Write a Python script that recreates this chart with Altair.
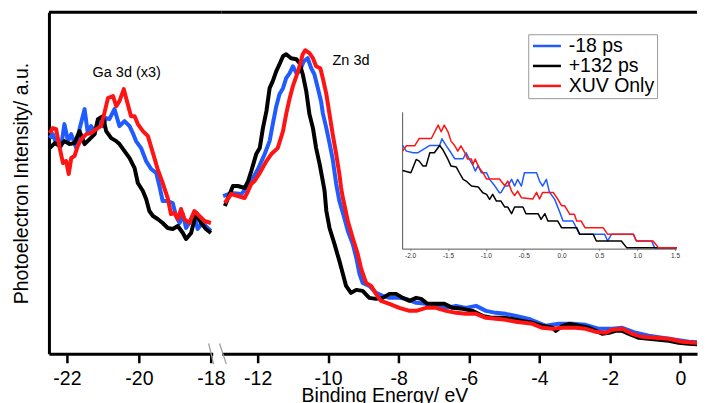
import altair as alt
import pandas as pd

FONT = "Liberation Sans"
SERIES = ["-18 ps", "+132 ps", "XUV Only"]
COLORS = ["#1f5bff", "#000000", "#ff1414"]

# ---------------- Ga 3d (x3) segment (binding energy eV, intensity a.u.) ----------------
ga_blue_e = [-22.48, -22.39, -22.30, -22.16, -22.07, -21.97, -21.88, -21.74, -21.65, -21.51, -21.42, -21.33, -21.23, -21.09,
             -21.00, -20.91, -20.82, -20.68, -20.54, -20.40, -20.26, -20.17, -20.08, -19.94, -19.80, -19.66, -19.52, -19.43,
             -19.34, -19.20, -19.06, -18.97, -18.87, -18.78, -18.69, -18.60, -18.46, -18.37, -18.23, -18.09, -18.00]
ga_blue_v = [215, 219, 210, 207, 229, 212, 219, 205, 224, 244, 220, 227, 222, 234, 227, 235, 234, 244, 227, 232, 227, 220,
             212, 205, 192, 184, 180, 167, 152, 152, 150, 137, 130, 139, 125, 130, 140, 124, 130, 125, 122]
ga_black_e = [-22.48, -22.34, -22.20, -22.07, -21.93, -21.79, -21.65, -21.51, -21.37, -21.23, -21.14, -21.00, -20.91, -20.77,
              -20.63, -20.54, -20.40, -20.26, -20.12, -20.03, -19.89, -19.80, -19.71, -19.61, -19.48, -19.34, -19.20, -19.06,
              -18.92, -18.78, -18.69, -18.55, -18.41, -18.27, -18.14, -18.00]
ga_black_v = [205, 210, 207, 212, 209, 210, 222, 209, 214, 219, 234, 237, 222, 215, 212, 209, 202, 195, 185, 170, 162, 154,
              142, 137, 134, 130, 125, 124, 127, 120, 114, 120, 140, 130, 124, 120]
ga_red_e = [-22.48, -22.39, -22.30, -22.20, -22.11, -22.02, -21.95, -21.88, -21.79, -21.70, -21.60, -21.46, -21.33, -21.19,
            -21.05, -20.96, -20.86, -20.72, -20.63, -20.54, -20.42, -20.31, -20.22, -20.12, -20.03, -19.89, -19.75, -19.61,
            -19.48, -19.34, -19.20, -19.11, -19.01, -18.92, -18.83, -18.74, -18.60, -18.46, -18.32, -18.18, -18.00]
ga_red_v = [220, 225, 224, 205, 190, 192, 179, 195, 197, 207, 214, 219, 220, 224, 227, 240, 255, 257, 247, 252, 264, 249,
            237, 237, 229, 222, 217, 200, 184, 170, 155, 139, 140, 134, 144, 134, 130, 142, 137, 132, 130]

# ---------------- Zn 3d / valence segment ----------------
zn_blue_e = [-12.98, -12.75, -12.46, -12.27, -12.18, -11.99, -11.80, -11.66, -11.57, -11.47, -11.38, -11.28, -11.19, -11.09,
             -11.00, -10.90, -10.81, -10.69, -10.58, -10.48, -10.39, -10.29, -10.20, -10.15, -10.05, -9.96, -9.87, -9.77,
             -9.68, -9.54, -9.44, -9.30, -9.20, -9.11, -9.02, -8.83, -8.64, -8.45, -8.26, -7.98, -7.79, -7.50, -7.22, -6.94,
             -6.65, -6.37, -6.09, -5.80, -5.52, -5.24, -4.96, -4.67, -4.30, -3.82, -3.45, -3.07, -2.69, -2.31, -1.94, -1.65,
             -1.27, -0.90, -0.52, -0.14, 0.24, 0.69]
zn_blue_v = [157, 160, 159, 167, 172, 184, 199, 212, 229, 247, 259, 265, 275, 280, 287, 280, 282, 292, 295, 285, 279, 265,
             252, 240, 225, 210, 194, 169, 152, 135, 122, 109, 95, 79, 70, 67, 60, 57, 55, 55, 54, 50, 49, 47, 45, 47, 45, 47,
             42, 40, 39, 37, 34, 27, 29, 29, 28, 24, 24, 25, 20, 17, 15, 13, 11, 10]
zn_black_e = [-12.93, -12.70, -12.56, -12.37, -12.27, -12.18, -12.04, -11.94, -11.85, -11.75, -11.66, -11.57, -11.47, -11.38,
              -11.28, -11.19, -11.05, -10.90, -10.81, -10.72, -10.62, -10.53, -10.43, -10.34, -10.24, -10.15, -10.10, -10.05,
              -9.96, -9.82, -9.68, -9.58, -9.49, -9.35, -9.20, -9.02, -8.83, -8.64, -8.45, -8.26, -8.07, -7.88, -7.69, -7.50,
              -7.36, -7.18, -6.99, -6.70, -6.47, -6.18, -5.90, -5.62, -5.33, -5.05, -4.77, -4.48, -4.20, -3.92, -3.63, -3.54,
              -3.35, -3.16, -2.88, -2.60, -2.40, -2.22, -2.03, -1.84, -1.65, -1.46, -1.18, -0.90, -0.61, -0.33, -0.05, 0.24,
              0.69]
zn_black_v = [147, 167, 167, 165, 172, 182, 199, 205, 225, 242, 265, 272, 282, 289, 297, 299, 295, 294, 290, 279, 262, 239,
              225, 205, 189, 172, 162, 142, 125, 109, 92, 79, 67, 60, 63, 62, 55, 54, 55, 59, 59, 55, 52, 55, 54, 49, 49, 49,
              45, 44, 42, 37, 35, 35, 34, 32, 30, 27, 25, 22, 27, 29, 27, 25, 22, 19, 20, 22, 22, 19, 15, 14, 13, 12, 10, 9, 8]
zn_red_e = [-12.93, -12.75, -12.56, -12.37, -12.27, -12.18, -12.09, -11.94, -11.75, -11.61, -11.43, -11.28, -11.19, -11.09,
            -11.00, -10.90, -10.81, -10.72, -10.65, -10.53, -10.43, -10.34, -10.22, -10.15, -10.05, -9.96, -9.87, -9.77,
            -9.68, -9.63, -9.58, -9.44, -9.30, -9.16, -9.06, -8.92, -8.78, -8.64, -8.50, -8.26, -7.98, -7.69, -7.50, -7.22,
            -6.94, -6.65, -6.37, -6.09, -5.80, -5.52, -5.24, -4.96, -4.67, -4.20, -3.92, -3.63, -3.35, -2.97, -2.69, -2.40,
            -2.12, -1.94, -1.65, -1.37, -1.08, -0.71, -0.33, 0.05, 0.43, 0.69]
zn_red_v = [150, 159, 157, 155, 162, 169, 172, 180, 192, 199, 205, 222, 239, 255, 267, 277, 287, 299, 303, 300, 295, 287,
            285, 275, 259, 239, 219, 199, 179, 165, 155, 132, 115, 99, 84, 70, 67, 59, 52, 49, 45, 42, 42, 45, 45, 42, 40, 39,
            39, 35, 34, 33, 31, 29, 25, 24, 25, 25, 24, 21, 20, 23, 24, 19, 16, 15, 14, 11, 10, 10]

# ---------------- inset (valence band edge, counts) ----------------
in_blue_e = [-2.10, -2.05, -1.96, -1.90, -1.74, -1.61, -1.58, -1.52, -1.46, -1.41, -1.30, -1.26, -1.22, -1.17, -1.14, -1.10,
             -1.06, -0.99, -0.95, -0.88, -0.82, -0.80, -0.75, -0.71, -0.66, -0.62, -0.58, -0.53, -0.49, -0.33, -0.29, -0.25,
             -0.20, -0.16, -0.09, -0.02, 0.02, 0.15, 0.24, 0.57, 0.61, 0.66, 0.95, 0.99, 1.19, 1.23, 1.52]
in_blue_c = [15.35, 14.5, 14.25, 14.25, 15.35, 15.35, 16.35, 15.25, 14.25, 13.35, 13.35, 14.25, 13.35, 12.35, 11.5, 12.35,
             11.25, 11.25, 10.25, 9.25, 8.25, 8.25, 9.25, 9.25, 10.25, 9.25, 10.25, 9.25, 11.25, 11.25, 10.0, 9.25, 10.25,
             8.35, 7.25, 5.25, 4.0, 4.0, 2.0, 2.0, 1.0, 2.0, 2.0, 1.0, 1.0, 0.0, 0.0]
in_black_e = [-2.10, -1.99, -1.92, -1.88, -1.83, -1.79, -1.74, -1.68, -1.61, -1.57, -1.50, -1.46, -1.39, -1.35, -1.30, -1.26,
              -1.19, -1.10, -1.04, -0.99, -0.95, -0.91, -0.86, -0.80, -0.75, -0.71, -0.66, -0.62, -0.51, -0.47, -0.31, -0.27,
              -0.22, -0.18, -0.05, 0.00, 0.20, 0.24, 0.42, 0.46, 0.79, 0.86, 1.52]
in_black_c = [11.6, 11.25, 13.25, 13.0, 12.25, 12.25, 14.25, 14.25, 15.35, 14.75, 13.25, 12.25, 12.1, 11.25, 10.25, 10.0,
              9.25, 9.1, 8.25, 8.0, 7.25, 8.0, 7.0, 7.0, 6.1, 6.1, 5.1, 6.1, 6.1, 5.1, 5.1, 4.25, 5.1, 4.0, 4.0, 3.0, 3.0,
              2.0, 2.0, 1.0, 1.0, 0.0, 0.0]
in_red_e = [-2.10, -2.05, -1.94, -1.88, -1.72, -1.63, -1.59, -1.55, -1.50, -1.46, -1.41, -1.37, -1.33, -1.28, -1.24, -1.19,
            -1.17, -1.14, -1.09, -1.04, -0.99, -0.82, -0.75, -0.71, -0.66, -0.62, -0.58, -0.53, -0.38, -0.33, -0.29, -0.25,
            -0.11, -0.05, 0.00, 0.04, 0.11, 0.17, 0.20, 0.26, 0.31, 0.55, 0.61, 0.95, 0.99, 1.21, 1.28, 1.52]
in_red_c = [14.5, 15.3, 15.3, 16.4, 16.4, 18.4, 17.4, 18.4, 17.4, 16.0, 15.3, 14.5, 15.3, 14.3, 13.3, 13.3, 12.5, 13.3,
            12.0, 11.3, 10.3, 10.3, 9.3, 10.0, 8.5, 7.8, 8.5, 7.5, 7.3, 8.3, 7.3, 8.3, 8.3, 7.3, 6.3, 6.3, 5.0, 5.0, 4.0,
            4.0, 3.0, 3.0, 2.0, 2.0, 1.0, 1.0, 0.0, 0.0]

# tick values
left_ticks = [-22, -20, -18]
right_ticks = [-12, -10, -8, -6, -4, -2, 0]
inset_ticks = [-2.0, -1.5, -1.0, -0.5, 0.0, 0.5, 1.0, 1.5]

# annotations
ann_left_text, ann_left_e, ann_left_v = ["Ga 3d (x3)"], [-20.34], [280]
ann_right_text, ann_right_e, ann_right_v = ["Zn 3d"], [-9.35], [292]

# axis-break marks and frame top (data units)
brk_e1, brk_e2, brk_v1, brk_v2 = [-13.39, -13.08], [-13.25, -12.89], [9.3, 9.3], [-11.3, -11.3]
top_left_e = [-22.5, -17.7]
top_v = 341


def frame(e, v, name):
    return pd.DataFrame({"E": e, "I": v, "series": name, "idx": range(len(e))})


left_df = pd.concat([frame(ga_blue_e, ga_blue_v, SERIES[0]), frame(ga_black_e, ga_black_v, SERIES[1]),
                     frame(ga_red_e, ga_red_v, SERIES[2])])
right_df = pd.concat([frame(zn_blue_e, zn_blue_v, SERIES[0]), frame(zn_black_e, zn_black_v, SERIES[1]),
                      frame(zn_red_e, zn_red_v, SERIES[2])])
inset_df = pd.concat([frame(in_blue_e, in_blue_c, SERIES[0]), frame(in_black_e, in_black_c, SERIES[1]),
                      frame(in_red_e, in_red_c, SERIES[2])])

MINUS = "\u2212"
main_axis = dict(domainColor="black", domainWidth=3, tickColor="black", tickWidth=2.5, tickSize=9,
                 labelFont=FONT, labelFontSize=19.5, labelColor="black", labelPadding=7, labelFlush=False,
                 labelOverlap=False, grid=False, labelExpr="'' + datum.value")

Y_DOMAIN = [-1, 341]

legend = alt.Legend(title=None, orient="none", legendX=307, legendY=22, symbolType="M-1,0H3", symbolSize=196,
                    symbolStrokeWidth=2.5, labelFontSize=19.5, labelFont=FONT, labelColor="black", labelOffset=19,
                    rowPadding=-3, padding=2, strokeColor="#9a9a9a", fillColor="white")


def color_enc(leg):
    if leg is None:
        return alt.Color("series:N", scale=alt.Scale(domain=SERIES, range=COLORS), legend=None)
    return alt.Color("series:N", scale=alt.Scale(domain=SERIES, range=COLORS), legend=leg)


def lines(df, x, y, width, leg, clip=False):
    out = []
    for name in [SERIES[0], SERIES[1], SERIES[2]]:
        out.append(alt.Chart(df).transform_filter(alt.datum.series == name)
                   .mark_line(strokeWidth=width, strokeJoin="round", clip=clip)
                   .encode(x=x, y=y, color=color_enc(leg), order="idx:Q"))
    return out


# ---------- left panel ----------
xl = alt.X("E:Q", scale=alt.Scale(domain=[-22.5, -17.95], nice=False, zero=False),
           axis=alt.Axis(values=left_ticks, title=None, **main_axis))
yl = alt.Y("I:Q", scale=alt.Scale(domain=Y_DOMAIN, nice=False, zero=False),
           axis=alt.Axis(title="Photoelectron Intensity/ a.u.", labels=False, ticks=False, domainColor="black",
                         domainWidth=3, titleFont=FONT, titleFontSize=19.5, titleFontWeight="normal",
                         titleColor="black", titlePadding=17, grid=False))

ann_l = alt.Chart(pd.DataFrame({"E": ann_left_e, "I": ann_left_v, "t": ann_left_text})).mark_text(
    font=FONT, fontSize=14.5, color="black", align="center", baseline="middle").encode(x=xl, y=yl, text="t:N")
top_l = alt.Chart(pd.DataFrame({"E": [top_left_e[0]], "E2": [top_left_e[1]], "I": [top_v]})).mark_rule(
    color="black", strokeWidth=3).encode(x=xl, x2="E2:Q", y=yl)

left = alt.layer(*lines(left_df, xl, yl, 4, None), ann_l, top_l).properties(width=164, height=342)

# ---------- right panel ----------
xr = alt.X("E:Q", scale=alt.Scale(domain=[-13.02, 0.47], nice=False, zero=False),
           axis=alt.Axis(values=right_ticks, title="Binding Energy/ eV", titleFont=FONT, titleFontSize=19.5,
                         titleFontWeight="normal", titleColor="black", titleX=163, titleY=33, **main_axis))
yr = alt.Y("I:Q", scale=alt.Scale(domain=Y_DOMAIN, nice=False, zero=False), axis=None)

ann_r = alt.Chart(pd.DataFrame({"E": ann_right_e, "I": ann_right_v, "t": ann_right_text})).mark_text(
    font=FONT, fontSize=14.5, color="black", align="center", baseline="middle").encode(x=xr, y=yr, text="t:N")
top_r = alt.Chart(pd.DataFrame({"I": [top_v]})).mark_rule(color="black", strokeWidth=3).encode(y=yr)
brk = alt.Chart(pd.DataFrame({"E": brk_e1, "E2": brk_e2, "I": brk_v1, "I2": brk_v2})).mark_rule(
    color="#9a9a9a", strokeWidth=1.2).encode(x=xr, x2="E2:Q", y=yr, y2="I2:Q")

right_main = alt.layer(*lines(right_df, xr, yr, 4, legend, clip=True), ann_r, top_r, brk)

xi = alt.X("E:Q", scale=alt.Scale(domain=[-2.106, 1.517], range=[180.7, 455.3], nice=False, zero=False),
           axis=alt.Axis(orient="bottom", offset=-105.3, values=inset_ticks, title=None, grid=False,
                         labelExpr="replace(format(datum.value, '.1f'), '" + MINUS + "', '-')",
                         labelFont=FONT, labelFontSize=6.5, labelColor="#333333", labelPadding=2, labelFlush=False,
                         labelOverlap=False, tickSize=2, tickColor="#777777", tickWidth=0.8,
                         domainColor="#555555", domainWidth=1))
yi = alt.Y("I:Q", scale=alt.Scale(domain=[-0.15, 20.4], range=[236.7, 99.7], nice=False, zero=False),
           axis=alt.Axis(orient="left", offset=-180.7, labels=False, ticks=False, title=None, grid=False,
                         domainColor="#555555", domainWidth=1))

inset = alt.layer(*lines(inset_df, xi, yi, 1.5, legend))

right = alt.layer(right_main, inset).resolve_scale(x="independent", y="independent").properties(
    width=476, height=342)

chart = alt.hconcat(left, right, spacing=9, bounds="flush").resolve_scale(color="independent").properties(
    padding={"left": 4, "top": 2, "right": 0, "bottom": 0}
).configure_view(strokeWidth=0)

chart.save("out.html", embed_options={"renderer": "svg", "actions": False})
